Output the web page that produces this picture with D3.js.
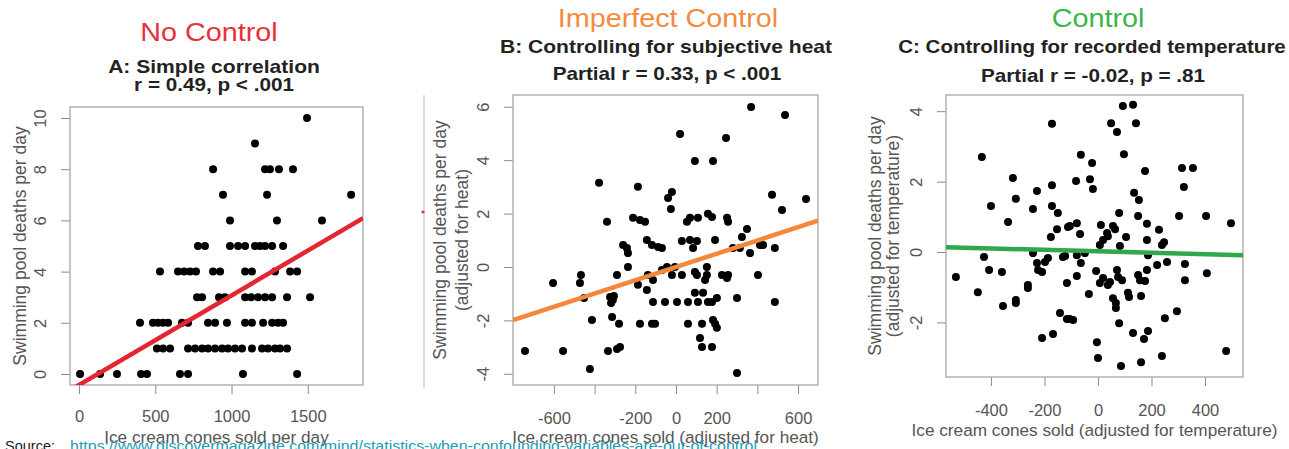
<!DOCTYPE html>
<html>
<head>
<meta charset="utf-8">
<script src="https://cdn.jsdelivr.net/npm/d3@7"></script>
<style>
  body { margin: 0; background: #fff; }
  svg { display: block; font-family: "Liberation Sans", Arial, sans-serif; }
</style>
</head>
<body>
<svg id="chart" width="1289" height="449"></svg>
<script>
// panel A: [cones sold per day, swimming pool deaths per day]
const pointsA = [
  [7,0],[138,0],[249,0],[407,0],[446,0],[662,0],[715,0],[1075,0],[1430,0],
  [511,1],[551,1],[597,1],[715,1],[761,1],[807,1],[846,1],[892,1],[938,1],[977,1],[1023,1],[1069,1],[1134,1],[1200,1],[1239,1],[1285,1],[1318,1],[1364,1],
  [400,2],[485,2],[518,2],[551,2],[584,2],[675,2],[715,2],[846,2],[892,2],[970,2],[1089,2],[1134,2],[1207,2],[1266,2],[1305,2],[1338,2],
  [774,3],[807,3],[918,3],[957,3],[1089,3],[1128,3],[1174,3],[1220,3],[1266,3],[1364,3],[1515,3],
  [531,4],[649,4],[689,4],[728,4],[767,4],[879,4],[925,4],[1089,4],[1134,4],[1285,4],[1384,4],[1430,4],
  [780,5],[826,5],[990,5],[1043,5],[1089,5],[1154,5],[1187,5],[1220,5],[1266,5],[1338,5],
  [990,6],[1298,6],[1593,6],
  [944,7],[1233,7],[1784,7],
  [879,8],[1220,8],[1252,8],[1311,8],[1403,8],
  [1154,9],
  [1495,10]
]

// panel B: adjusted for heat
const pointsB = [
  [-742,-3.15],[-555,-3.15],[-604,-0.60],[-467,-0.30],[-472,-0.60],[-452,-1.16],[-413,-1.99],[-423,-3.82],
  [-378,3.15],[-339,1.69],[-324,-1.12],[-310,-1.24],[-319,-1.35],[-305,-1.09],[-290,-0.30],[-314,-1.87],
  [-334,-3.15],[-290,-3.07],[-275,-3.00],[-280,-2.13],[-260,0.82],[-241,0.71],[-236,0.52],[-236,0.00],
  [-211,1.84],[-177,1.76],[-152,1.69],[-187,3.00],[-187,-0.67],[-143,-0.86],[-177,-2.13],[-118,-2.13],
  [-103,-2.13],[-143,1.01],[-118,0.82],[-88,0.75],[-69,0.71],[-138,-0.30],[-113,-0.49],[-113,-1.31],
  [-54,-1.31],[5,-1.31],[-69,-0.11],[-44,0.00],[-20,-0.30],[-5,0.00],[29,-0.30],[-39,2.58],[-20,2.81],
  [-25,2.17],[20,4.98],[54,1.69],[69,1.84],[108,1.84],[29,0.97],[69,1.01],[103,0.97],[84,0.71],
  [59,-1.31],[93,-0.97],[108,-1.31],[133,-0.97],[157,-1.31],[177,-1.31],[201,-1.16],[59,-2.13],
  [128,-2.13],[182,-1.99],[192,-2.13],[201,-2.28],[93,-0.19],[103,-0.30],[152,0.00],[152,-0.30],
  [143,-0.49],[93,3.97],[182,3.97],[118,-2.66],[128,-3.00],[177,-3.00],[157,1.99],[177,1.87],
  [192,1.01],[226,-0.30],[251,-0.41],[256,-0.30],[246,4.83],[251,1.84],[256,1.69],[280,0.71],
  [314,0.71],[324,1.12],[349,1.42],[300,-1.16],[300,-3.97],[364,0.52],[369,5.99],[403,-0.30],
  [413,0.82],[428,0.82],[472,2.70],[486,0.71],[486,-1.31],[521,2.13],[536,5.69],[639,2.55]
]

// panel C: adjusted for temperature
const pointsC = [
  [-531,-0.71],[-449,-1.14],[-434,2.70],[-426,-0.14],[-407,-0.51],[-400,1.31],[-359,-0.57],[-336,0.85],
  [-355,-1.53],[-318,2.10],[-307,1.51],[-307,-1.36],[-307,-1.45],[-262,-0.94],[-262,-1.02],[-243,1.22],
  [-243,-0.03],[-228,1.73],[-228,-0.31],[-224,-0.51],[-209,-0.57],[-198,-0.28],[-187,-0.17],[-209,-2.44],
  [-172,3.64],[-172,1.90],[-172,1.31],[-150,1.11],[-176,0.43],[-153,0.65],[-168,-2.33],[-142,-1.73],
  [-131,-0.14],[-116,-0.88],[-116,-1.90],[-112,0.71],[-123,-0.11],[-79,-0.09],[-49,-0.03],[-105,-1.90],
  [-93,-1.93],[-105,0.74],[-79,0.82],[-82,2.02],[-64,2.76],[-64,-0.31],[-67,0.51],[-79,-0.68],
  [-30,2.07],[-22,2.53],[-19,1.79],[-34,-1.19],[-4,-2.56],[0,-3.01],[-7,-0.54],[7,-0.88],[19,-0.74],
  [37,-0.94],[45,-0.85],[7,0.20],[19,0.34],[34,0.54],[37,0.45],[11,0.77],[49,3.66],[71,3.41],
  [56,0.74],[64,0.65],[56,-1.31],[67,-1.45],[67,-1.59],[71,-0.51],[75,-0.71],[90,-0.80],[82,0.17],
  [79,1.11],[79,-2.02],[86,-3.24],[93,4.15],[131,4.18],[97,2.78],[105,0.43],[112,-1.16],[116,-1.28],
  [131,-2.30],[135,1.68],[153,1.48],[142,3.66],[150,1.02],[150,-0.65],[157,-0.80],[176,-0.82],
  [183,-0.51],[161,-1.25],[161,-3.13],[172,-2.47],[187,-2.24],[176,2.30],[183,0.80],[183,0.34],
  [187,-0.09],[221,-0.37],[228,0.63],[239,0.20],[247,0.28],[239,-2.95],[250,-1.88],[258,-0.28],
  [295,-1.68],[303,1.02],[314,2.39],[355,2.39],[321,1.85],[325,-0.34],[325,-0.80],[404,1.02],
  [407,-0.60],[479,-2.81],[497,0.82]
]

// fitted lines: [intercept, slope]
const fits = [[-0.43, 0.0035], [0, 0.00248], [0.02, -0.000207]]

const headings = ['No Control', 'Imperfect Control', 'Control']
const subtitles = ['A: Simple correlation', 'B: Controlling for subjective heat', 'C: Controlling for recorded temperature']
const stats = ['r = 0.49, p < .001', 'Partial r = 0.33, p < .001', 'Partial r = -0.02, p = .81']
const xTitles = ['Ice cream cones sold per day', 'Ice cream cones sold (adjusted for heat)', 'Ice cream cones sold (adjusted for temperature)']
const yTitles = [
  ['Swimming pool deaths per day'],
  ['Swimming pool deaths per day', '(adjusted for heat)'],
  ['Swimming pool deaths per day', '(adjusted for temperature)']
]
const xTicks = [[0, 500, 1000, 1500], [-600, -400, -200, 0, 200, 400, 600], [-400, -200, 0, 200, 400]]
const xTickLabels = [[0, 500, 1000, 1500], [-600, -200, 0, 200, 600], [-400, -200, 0, 200, 400]]
const yTicks = [[0, 2, 4, 6, 8, 10], [-4, -2, 0, 2, 4, 6], [-2, 0, 2, 4]]
const sourceUrl = 'https://www.discovermagazine.com/mind/statistics-when-confounding-variables-are-out-of-control'

const svg = d3.select('#chart')

const layout = [
  { left: 70, right: 363, top: 107, bottom: 385, xDom: [-59, 1862], yDom: [-0.43, 10.43],
    color: '#e8303a', line: '#e3262f', head: [209, 41], sub: [214, 73], stat: [214, 91], subSx: 1.17,
    yTitleX: [20], xTitleY: 443, tickBase: 37 },
  { left: 513, right: 818, top: 95, bottom: 385, xDom: [-801, 698], yDom: [-4.42, 6.44],
    color: '#f28a40', line: '#f5873a', head: [668, 27], sub: [666, 53], stat: [667, 80], subSx: 1.17,
    yTitleX: [440, 462], xTitleY: 443, tickBase: 39 },
  { left: 946, right: 1243, top: 95, bottom: 377, xDom: [-568, 542], yDom: [-3.55, 4.46],
    color: '#3bb54a', line: '#2ea84a', head: [1098, 27], sub: [1092, 53], stat: [1093, 82], subSx: 1.14,
    yTitleX: [875, 893], xTitleY: 436, tickBase: 39 }
]
const allPoints = [pointsA, pointsB, pointsC]

// horizontal text, stretched a little sideways like the source image
const label = (g, pos, txt, size, sx, opts = {}) =>
  g.append('text')
    .attr('transform', `translate(${pos[0]},${pos[1]}) scale(${sx},1)`)
    .attr('text-anchor', 'middle')
    .attr('fill', opts.fill || '#222')
    .style('font-size', size + 'px')
    .style('font-weight', opts.bold ? 'bold' : 'normal')
    .text(txt)

layout.forEach((L, i) => {
  const g = svg.append('g')
  const x = d3.scaleLinear().domain(L.xDom).range([L.left, L.right])
  const y = d3.scaleLinear().domain(L.yDom).range([L.bottom, L.top])

  g.append('clipPath').attr('id', 'clip' + i)
    .append('rect')
    .attr('x', L.left).attr('y', L.top)
    .attr('width', L.right - L.left).attr('height', L.bottom - L.top)

  // axes
  const xAxis = d3.axisBottom(x).tickValues(xTicks[i]).tickSize(9)
    .tickFormat(d => xTickLabels[i].includes(d) ? String(d) : '')
  const gx = g.append('g').attr('transform', `translate(0,${L.bottom})`).call(xAxis)
  gx.select('.domain').remove()
  gx.selectAll('line').attr('stroke', '#8c8c8c')
  gx.selectAll('text').attr('y', L.tickBase).attr('dy', 0)
    .attr('fill', '#555').style('font-size', '16.5px')

  const yAxis = d3.axisLeft(y).tickValues(yTicks[i]).tickSize(9).tickFormat(d => String(d))
  const gy = g.append('g').attr('transform', `translate(${L.left},0)`).call(yAxis)
  gy.select('.domain').remove()
  gy.selectAll('line').attr('stroke', '#8c8c8c')
  gy.selectAll('text')
    .attr('x', 0).attr('dy', '0.35em')
    .attr('transform', 'translate(-30,0) rotate(-90)')
    .attr('text-anchor', 'middle')
    .attr('fill', '#555').style('font-size', '16.5px')

  // box
  g.append('rect')
    .attr('x', L.left).attr('y', L.top)
    .attr('width', L.right - L.left).attr('height', L.bottom - L.top)
    .attr('fill', 'none').attr('stroke', '#a6a6a6').attr('stroke-width', 1.3)

  // points
  g.append('g').selectAll('circle')
    .data(allPoints[i])
    .join('circle')
    .attr('cx', d => x(d[0]))
    .attr('cy', d => y(d[1]))
    .attr('r', 4)
    .attr('fill', '#000')

  // fitted line
  const [a, b] = fits[i]
  g.append('line')
    .attr('clip-path', `url(#clip${i})`)
    .attr('x1', x(L.xDom[0])).attr('y1', y(a + b * L.xDom[0]))
    .attr('x2', x(L.xDom[1])).attr('y2', y(a + b * L.xDom[1]))
    .attr('stroke', L.line).attr('stroke-width', 4.5)

  // titles
  label(g, L.head, headings[i], 25, 1.15, { fill: L.color })
  label(g, L.sub, subtitles[i], 18, L.subSx, { bold: true })
  label(g, L.stat, stats[i], 18, 1.15, { bold: true })

  // axis titles
  label(g, [(L.left + L.right) / 2, L.xTitleY], xTitles[i], 16.7, 1.03, { fill: '#555' })
  const cy = (L.top + L.bottom) / 2
  yTitles[i].forEach((t, k) => {
    g.append('text')
      .attr('transform', `translate(${L.yTitleX[k]},${cy}) rotate(-90)`)
      .attr('dy', '0.35em')
      .attr('text-anchor', 'middle').attr('fill', '#555')
      .style('font-size', '17.5px').text(t)
  })
})

// separator artefact left of panel B
svg.append('line').attr('x1', 424).attr('x2', 424).attr('y1', 95).attr('y2', 388)
  .attr('stroke', '#bbb').attr('stroke-width', 1)
svg.append('circle').attr('cx', 423).attr('cy', 212).attr('r', 1.6).attr('fill', '#e8303a')

// source
svg.append('text').attr('x', 5).attr('y', 451).attr('fill', '#222')
  .style('font-size', '14.5px').text('Source:')
svg.append('text').attr('x', 70).attr('y', 451).attr('fill', '#1b9db2')
  .attr('textLength', 687).attr('lengthAdjust', 'spacingAndGlyphs')
  .style('font-size', '14.5px').text(sourceUrl)
</script>
</body>
</html>
